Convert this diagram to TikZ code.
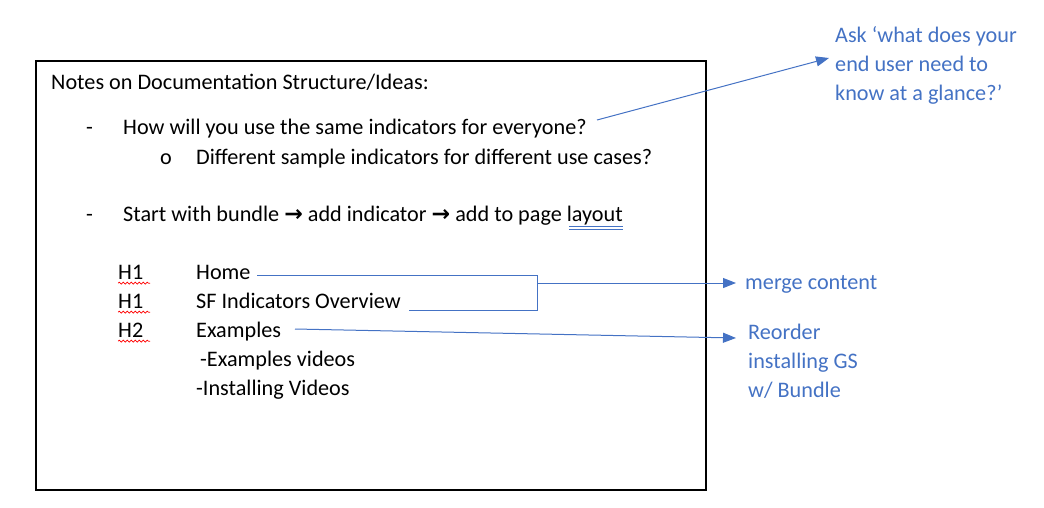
\documentclass[tikz,border=0pt]{standalone}
\usepackage{fontspec}
\setmainfont{Carlito}
\newfontfamily\symfont{DejaVu Sans}
\usetikzlibrary{arrows.meta,decorations.pathmorphing}
\definecolor{noteblue}{HTML}{4472C4}
\begin{document}
\begin{tikzpicture}[x=1pt,y=-1pt,
 txt/.style={anchor=base west,inner sep=0pt,font=\fontsize{22.2}{29}\selectfont},
 bluetxt/.style={txt,text=noteblue},
 conn/.style={draw=noteblue,line width=1pt},
 arr/.style={conn,-{Triangle[length=13pt,width=10pt]}},
 wavy/.style={draw=red,line width=0.7pt,decorate,decoration={snake,amplitude=1pt,segment length=4pt}}]
\useasboundingbox (0,0) rectangle (1044,507);
\draw[line width=2pt] (36,61) rectangle (706,490);
% main text
\node[txt] (title) at (51,89) {Notes on Documentation Structure/Ideas:};
\node[txt] (d1) at (86,134) {-};
\node[txt] (q1) at (123,134) {How will you use the same indicators for everyone?};
\node[txt] (o1) at (160,164) {o};
\node[txt] (q2) at (196,164) {Different sample indicators for different use cases?};
\node[txt] (d2) at (86,221) {-};
\node[txt] (q3) at (123,221) {Start with bundle {\symfont\bfseries →} add indicator {\symfont\bfseries →} add to page layout};
\node[txt] (h1a) at (118,279) {H1};
\node[txt] (home) at (196,279) {Home};
\node[txt] (h1b) at (118,308) {H1};
\node[txt] (sf) at (196,308) {SF Indicators Overview};
\node[txt] (h2) at (118,337) {H2};
\node[txt] (ex) at (196,337) {Examples};
\node[txt] (exv) at (200,366) {-Examples videos};
\node[txt] (inst) at (196,395) {-Installing Videos};
% spell-check marks
\draw[wavy] (h1a.south west) ++(0,4) -- ++(32,0);
\draw[wavy] (h1b.south west) ++(0,4) -- ++(32,0);
\draw[wavy] (h2.south west) ++(0,4) -- ++(32,0);
\draw[noteblue,line width=0.6pt] (q3.base east) ++(-54,5) -- ++(54,0);
\draw[noteblue,line width=0.6pt] (q3.base east) ++(-54,8) -- ++(54,0);
% blue notes
\node[bluetxt] (ask1) at (835,42) {Ask ‘what does your};
\node[bluetxt] (ask2) at (835,71) {end user need to};
\node[bluetxt] (ask3) at (835,100) {know at a glance?’};
\node[bluetxt] (merge) at (745,289) {merge content};
\node[bluetxt] (re1) at (748,339) {Reorder};
\node[bluetxt] (re2) at (748,368) {installing GS};
\node[bluetxt] (re3) at (748,397) {w/ Bundle};
% connectors
\coordinate (askfrom) at (597,120);
\coordinate (askto) at (829,58);
\draw[arr] (askfrom) -- (askto);
\coordinate (homeend) at (257,275);
\coordinate (sfend) at (409,310);
\coordinate (brtop) at (537,275);
\coordinate (brbot) at (537,310);
\coordinate (brmid) at (537,283);
\coordinate (mergeto) at (736,283);
\draw[conn] (homeend) -- (brtop) -- (brbot) -- (sfend);
\draw[arr] (brmid) -- (mergeto);
\coordinate (exend) at (295,329);
\coordinate (reto) at (736,338);
\draw[arr] (exend) -- (reto);
\end{tikzpicture}
\end{document}
